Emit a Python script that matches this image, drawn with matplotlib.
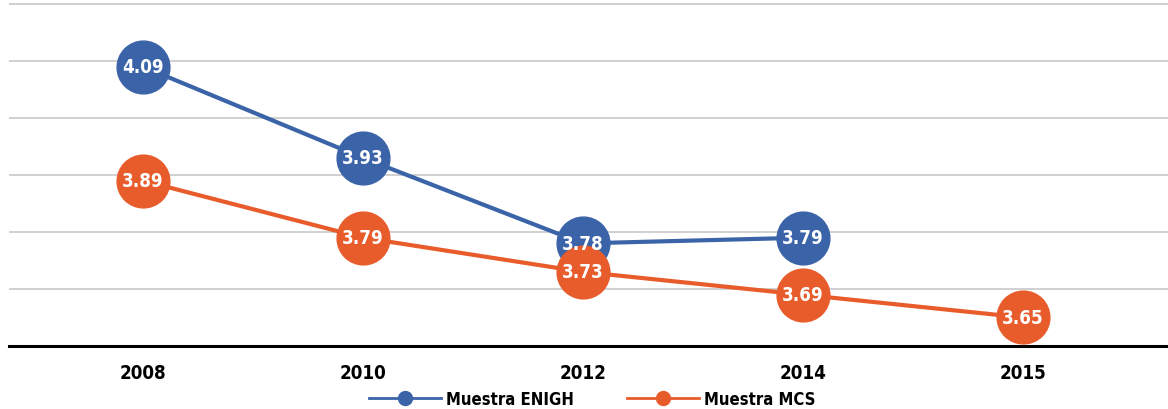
import matplotlib
matplotlib.use("Agg")
import matplotlib.pyplot as plt
from matplotlib.lines import Line2D

plt.rcParams['font.family'] = ['DejaVu Sans']
plt.rcParams['font.stretch'] = 'condensed'

years = ["2008", "2010", "2012", "2014", "2015"]
enigh = [4.09, 3.93, 3.78, 3.79, None]
mcs = [3.89, 3.79, 3.73, 3.69, 3.65]

BLUE = "#3A63A8"
ORANGE = "#E85C2C"

fig = plt.figure(figsize=(11.68, 4.10), dpi=100)
ax = fig.add_axes([9 / 1168, 63 / 410, 1159 / 1168, 344 / 410])

for vals, col in [(enigh, BLUE), (mcs, ORANGE)]:
    xs = [i for i, v in enumerate(vals) if v is not None]
    ys = [v for v in vals if v is not None]
    ax.plot(xs, ys, color=col, lw=3, marker="o", ms=38, zorder=3)
    for x, y in zip(xs, ys):
        ax.text(x, y, f"{y:.2f}", color="white", fontsize=13.5, fontweight="bold",
                ha="center", va="center", zorder=4)

ax.set_xlim(-0.609, 4.659)
ax.set_ylim(3.6, 4.2035)
ax.set_yticks([3.7, 3.8, 3.9, 4.0, 4.1, 4.2])
ax.yaxis.grid(True, color="#d0d0d0", lw=1.4)
ax.set_axisbelow(True)
ax.tick_params(axis="y", left=False, labelleft=False)
ax.set_xticks(range(len(years)))
ax.set_xticklabels(years, fontsize=13.5, fontweight="bold")
ax.tick_params(axis="x", length=0, pad=12)
for s in ["top", "right", "left"]:
    ax.spines[s].set_visible(False)
ax.spines["bottom"].set_linewidth(2.2)
ax.spines["bottom"].set_color("black")

handles = [Line2D([], [], color=BLUE, lw=2, marker="o", ms=10),
           Line2D([], [], color=ORANGE, lw=2, marker="o", ms=10)]
fig.legend(handles, ["Muestra ENIGH", "Muestra MCS"], loc="center",
           bbox_to_anchor=(592 / 1168, 1 - 400 / 410), ncol=2, frameon=False,
           prop={"size": 12, "weight": "bold"}, handlelength=4.3,
           columnspacing=3.2, handletextpad=0.3)

fig.savefig("out.png", dpi=100)
